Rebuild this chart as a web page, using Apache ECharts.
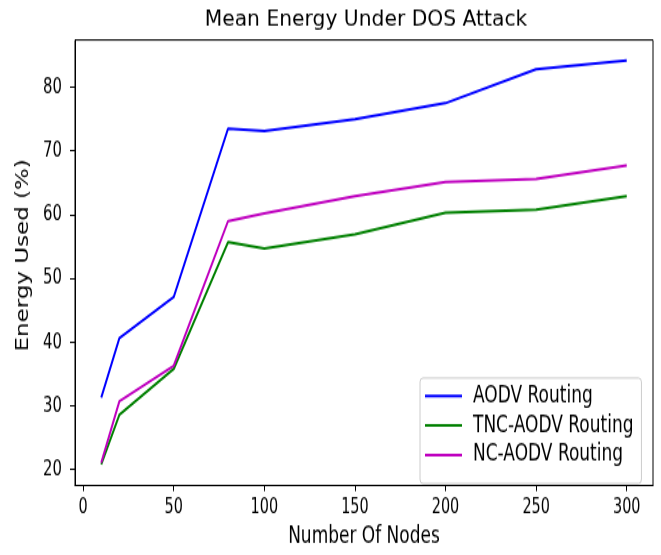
<!DOCTYPE html>
<html><head><meta charset="utf-8">
<script src="https://cdn.jsdelivr.net/npm/echarts@6/dist/echarts.min.js"></script>
<style>
html,body{margin:0;padding:0;background:#fff;overflow:hidden}
#wrap{width:661px;height:555px;overflow:hidden}
#c{width:661px;height:411px;transform:scaleY(1.35037);transform-origin:0 0}
</style>
</head><body><div id="wrap"><div id="c"></div></div>
<script>
const nodes = [10, 20, 50, 80, 100, 150, 200, 250, 300];
const aodv = [31.3, 40.6, 47.1, 73.5, 73.1, 75.0, 77.5, 82.8, 84.2];
const tncAodv = [20.8, 28.6, 35.8, 55.7, 54.7, 56.9, 60.3, 60.8, 62.9];
const ncAodv = [21.1, 30.7, 36.3, 59.0, 60.2, 62.9, 65.1, 65.6, 67.7];
const xTicks = [0, 50, 100, 150, 200, 250, 300];
const yTicks = [20, 30, 40, 50, 60, 70, 80];
const seriesNames = ['AODV Routing', 'TNC-AODV Routing', 'NC-AODV Routing'];
const titleText = 'Mean Energy Under DOS Attack';

const S = 1.35037; // vertical stretch of the reference image
const font = 'DejaVu Sans';
const tickFont = 'DejaVu Sans Condensed';
const pair = (ys) => nodes.map((x, i) => [x, ys[i]]);
const chart = echarts.init(document.getElementById('c'), null, {renderer: 'canvas'});
const mk = (name, data, color) => ({
  name, type: 'line', data: pair(data), showSymbol: false, symbol: 'none',
  lineStyle: {color, width: 2}, itemStyle: {color}, animation: false
});
chart.setOption({
  animation: false,
  graphic: [{
    type: 'text', x: 366, y: 20.8 / S, scaleY: 1 / S, silent: true,
    style: {text: titleText, fontFamily: font, fontSize: 20.3, fill: '#000',
      align: 'center', verticalAlign: 'middle'}
  }],
  grid: {left: 75, right: 8, top: 40 / S, bottom: 411 - 487 / S,
    show: true, borderColor: '#000', borderWidth: 1, backgroundColor: '#fff'},
  xAxis: {type: 'value', min: -4.5, max: 314.5,
    name: 'Number Of Nodes', nameLocation: 'middle', nameGap: 29.5,
    nameTextStyle: {fontFamily: font, fontSize: 17, color: '#000'},
    axisLine: {show: true, onZero: false, lineStyle: {color: '#000', width: 1}},
    axisTick: {show: true, length: 4.2, customValues: xTicks, lineStyle: {color: '#000'}},
    axisLabel: {customValues: xTicks, fontFamily: tickFont, fontSize: 16, color: '#000', margin: 8},
    splitLine: {show: false}},
  yAxis: {type: 'value', min: 17.5, max: 87.4,
    name: 'Energy Used (%)', nameLocation: 'middle', nameGap: 43,
    nameTextStyle: {fontFamily: font, fontSize: 17, color: '#000', padding: [0, 0, 0, 11]},
    axisLine: {show: true, onZero: false, lineStyle: {color: '#000', width: 1}},
    axisTick: {show: true, length: 5, customValues: yTicks, lineStyle: {color: '#000'}},
    axisLabel: {customValues: yTicks, fontFamily: tickFont, fontSize: 16.5, color: '#000', margin: 13},
    splitLine: {show: false}},
  legend: {orient: 'vertical', left: 420, top: 378 / S,
    padding: [4.8, 8, 12.5, 5], itemWidth: 37, itemHeight: 2, itemGap: 4.9, icon: 'rect',
    backgroundColor: 'rgba(255,255,255,0.8)', borderColor: '#cccccc', borderWidth: 1, borderRadius: 3,
    textStyle: {fontFamily: font, fontSize: 17, lineHeight: 17, color: '#000', padding: [0, 0, 0, 6]},
    data: seriesNames},
  series: [
    mk(seriesNames[0], aodv, '#0000ff'),
    mk(seriesNames[1], tncAodv, '#008000'),
    mk(seriesNames[2], ncAodv, '#bf00bf')
  ]
});
</script></body></html>
